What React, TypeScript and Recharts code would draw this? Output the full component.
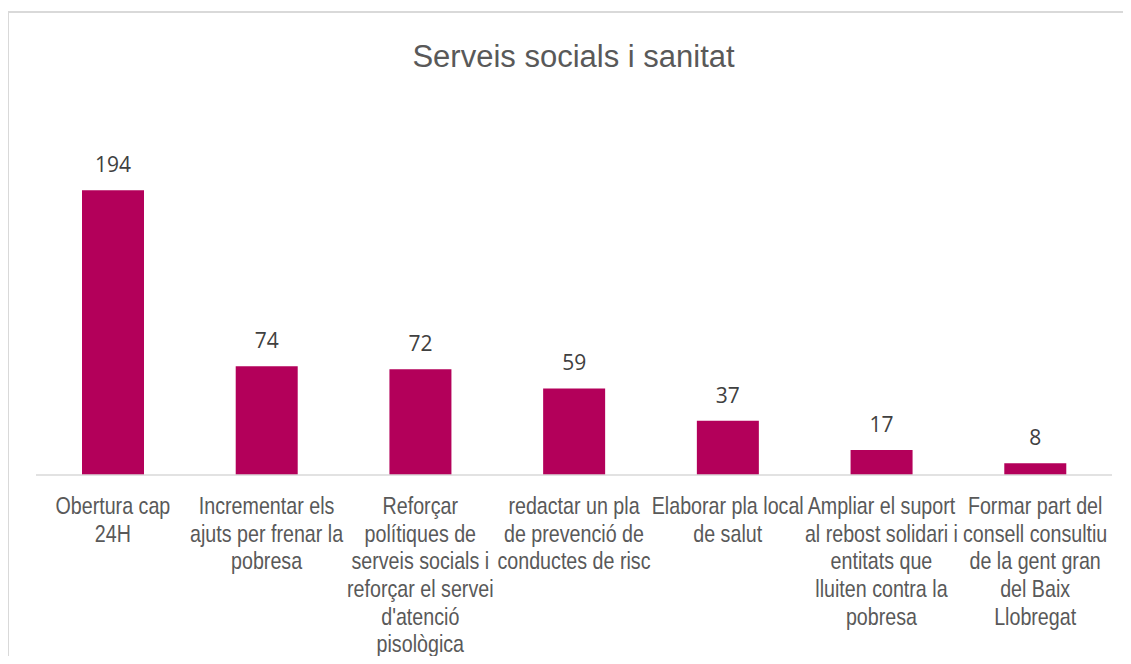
import React from 'react';
import { BarChart, Bar, XAxis, YAxis, LabelList, ReferenceLine } from 'recharts';

const CATEGORIES: string[][] = [
  ['Obertura cap', '24H'],
  ['Incrementar els', 'ajuts per frenar la', 'pobresa'],
  ['Reforçar', 'polítiques de', 'serveis socials i', 'reforçar el servei', "d'atenció", 'pisològica'],
  ['redactar un pla', 'de prevenció de', 'conductes de risc'],
  ['Elaborar pla local', 'de salut'],
  ['Ampliar el suport', 'al rebost solidari i', 'entitats que', 'lluiten contra la', 'pobresa'],
  ['Formar part del', 'consell consultiu', 'de la gent gran', 'del Baix', 'Llobregat'],
];

const VALUES = [194, 74, 72, 59, 37, 17, 8];

const TITLE = 'Serveis socials i sanitat';

const BAR_COLOR = '#b3005a';

const data = CATEGORIES.map((lines, i) => ({ name: lines.join(' '), value: VALUES[i] }));

// no narrow font installed, so squeeze Liberation Sans horizontally
const CategoryTick = (props: any) => {
  const { x, y, index } = props;
  const lines = CATEGORIES[index] || [];
  return (
    <g transform={`translate(${x},${y}) scale(0.82,1)`}>
      <text
        x={0}
        y={0}
        textAnchor="middle"
        fill="#595959"
        fontSize={24}
        fontFamily="'Liberation Sans', Arial, sans-serif"
      >
        {lines.map((line, i) => (
          <tspan key={i} x={0} y={39 + i * 27.7}>
            {line}
          </tspan>
        ))}
      </text>
    </g>
  );
};

export default function App() {
  return (
    <div style={{ position: 'relative', width: 1131, height: 664, margin: -8, overflow: 'hidden', background: '#fff' }}>
      <div
        style={{
          position: 'absolute',
          left: 7,
          top: 11,
          width: 1200,
          height: 700,
          border: '2px solid #d9d9d9',
        }}
      />
      <div
        style={{
          position: 'absolute',
          left: 8,
          top: 41,
          width: 1131,
          textAlign: 'center',
          fontFamily: "'Liberation Sans', Arial, sans-serif",
          fontSize: 31,
          lineHeight: '31px',
          color: '#595959',
        }}
      >
        {TITLE}
      </div>
      <div style={{ position: 'absolute', left: 0, top: 0 }}>
        <BarChart width={1131} height={664} data={data} margin={{ top: 108, right: 19, left: 36, bottom: 0 }}>
          <XAxis
            dataKey="name"
            height={189}
            interval={0}
            tickLine={false}
            tickSize={0}
            tickMargin={0}
            axisLine={false}
            tick={<CategoryTick />}
          />
          <YAxis hide domain={[0, 250]} />
          <Bar dataKey="value" fill={BAR_COLOR} barSize={62} isAnimationActive={false}>
            <LabelList
              dataKey="value"
              position="top"
              offset={18}
              fill="#404040"
              fontSize={21}
              fontFamily="'Open Sans', 'Noto Sans', sans-serif"
            />
          </Bar>
          <ReferenceLine y={0} stroke="#d9d9d9" strokeWidth={1.5} />
        </BarChart>
      </div>
    </div>
  );
}
